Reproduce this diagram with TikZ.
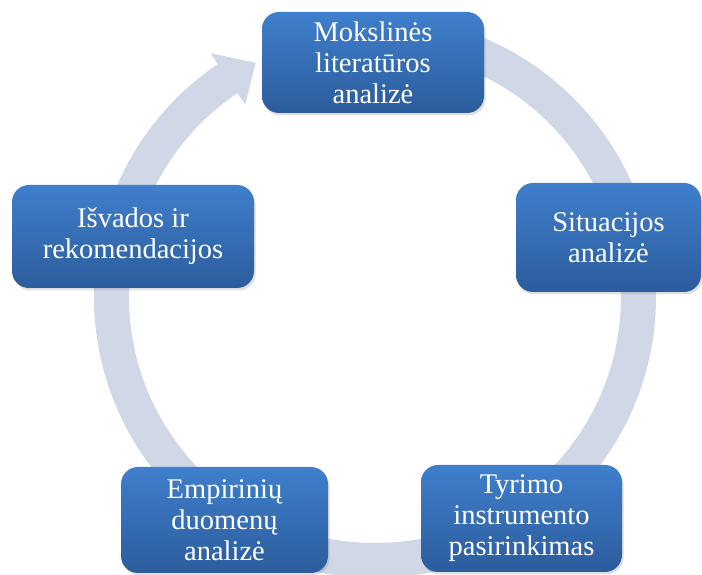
\documentclass[tikz,border=0pt]{standalone}
\usepackage{fontspec}
\setmainfont{Liberation Serif}
\usetikzlibrary{calc,shadows}

\definecolor{ringgray}{RGB}{208,216,232}
\definecolor{boxtop}{RGB}{63,127,204}
\definecolor{boxbottom}{RGB}{44,92,156}

\tikzset{
	stage/.style={
		rounded corners=17pt, top color=boxtop, bottom color=boxbottom,
		drop shadow={opacity=0.25, shadow xshift=1.5pt, shadow yshift=-2.5pt},
		text=white, align=center, inner sep=0pt,
		font=\fontsize{28.5}{31}\selectfont},
}

\begin{document}
\begin{tikzpicture}[x=1pt, y=1pt]
	\useasboundingbox (0,0) rectangle (702,575);

	% ring with arrow head
	\coordinate (ctr) at (375,278);
	\fill [ringgray]
		($(ctr)+(95:281)$) arc [start angle=95, end angle=-236, radius=281]
		-- ($(ctr)+(-236:294)$)
		-- ($(ctr)+(-243:263)$)
		-- ($(ctr)+(-236:232)$)
		-- ($(ctr)+(-236:246)$)
		arc [start angle=-236, end angle=95, radius=246]
		-- cycle;

	\node (lit) at (373, 512.5) [stage, minimum width=222pt, minimum height=101pt]
		{Mokslinės\\literatūros\\analizė};

	\node (sit) at (608.5, 337.5) [stage, minimum width=185pt, minimum height=109pt]
		{Situacijos\\analizė};

	\node (tyr) at (521.5, 56.5) [stage, minimum width=201pt, minimum height=107pt]
		{Tyrimo\\instrumento\\pasirinkimas};

	\node (emp) at (224.5, 55) [stage, minimum width=207pt, minimum height=106pt]
		{Empirinių\\duomenų\\analizė};

	\node (isv) at (133, 338.5) [stage, minimum width=242pt, minimum height=103pt]
		{Išvados ir\\rekomendacijos};
\end{tikzpicture}
\end{document}
